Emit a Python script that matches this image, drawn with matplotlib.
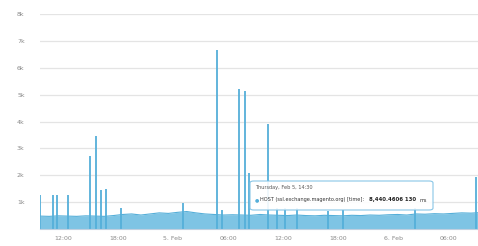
"""
plot.py
-------
Response time of one host over two days (Highcharts-like area chart).
Saves the figure to out.png.
"""

import matplotlib
matplotlib.use("Agg")
import matplotlib.pyplot as plt
import matplotlib.dates as mdates
from matplotlib.patches import FancyBboxPatch
import pandas as pd

# Baseline response time (ms), hourly from Feb 4 09:30
base_start = "2015-02-04 09:30"
base_values = [480, 470, 490, 480, 470, 490, 480, 470, 500, 540, 560, 520,
               560, 600, 580, 620, 650, 600, 560, 540, 520, 530, 520, 510,
               540, 520, 510, 500, 520, 500, 490, 510, 500, 490, 510, 500,
               520, 510, 530, 540, 520, 560, 550, 570, 560, 580, 600, 590, 610]

# Short spikes (time, ms)
spike_times = ["2015-02-04 09:32", "2015-02-04 10:55", "2015-02-04 11:20",
               "2015-02-04 12:35", "2015-02-04 14:57", "2015-02-04 15:36",
               "2015-02-04 16:09", "2015-02-04 16:42", "2015-02-04 18:20",
               "2015-02-05 01:05", "2015-02-05 04:48", "2015-02-05 05:21",
               "2015-02-05 07:12", "2015-02-05 07:51", "2015-02-05 08:18",
               "2015-02-05 10:22", "2015-02-05 11:20", "2015-02-05 12:13",
               "2015-02-05 13:32", "2015-02-05 16:54", "2015-02-05 18:33",
               "2015-02-06 02:24", "2015-02-06 09:03"]
spike_values = [1250, 1250, 1250, 1250, 2700, 3450, 1450, 1500, 780,
                960, 6650, 700, 5200, 5130, 2100, 3900, 800, 800,
                800, 680, 700, 780, 1950]

y_ticks = [1000, 2000, 3000, 4000, 5000, 6000, 7000, 8000]
y_labels = ["1k", "2k", "3k", "4k", "5k", "6k", "7k", "8k"]
x_ticks = ["2015-02-04 12:00", "2015-02-04 18:00", "2015-02-05 00:00",
           "2015-02-05 06:00", "2015-02-05 12:00", "2015-02-05 18:00",
           "2015-02-06 00:00", "2015-02-06 06:00"]
x_labels = ["12:00", "18:00", "5. Feb", "06:00", "12:00", "18:00", "6. Feb", "06:00"]

fill_color = "#7ec4e4"
line_color = "#55afd9"

base_times = pd.date_range(base_start, periods=len(base_values), freq="h")
spikes = pd.to_datetime(spike_times)

fig = plt.figure(figsize=(4.78, 2.46), dpi=100)
ax = fig.add_axes([40 / 478, 1 - 229 / 246, 438 / 478, 215 / 246])

ax.fill_between(base_times, 0, base_values, color=fill_color, lw=0)
ax.plot(base_times, base_values, color=line_color, lw=0.8)
ax.vlines(spikes, 0, spike_values, color=line_color, lw=1.3)

ax.set_xlim(pd.Timestamp("2015-02-04 09:30"), pd.Timestamp("2015-02-06 09:16"))
ax.set_ylim(0, 8000)

ax.set_yticks(y_ticks)
ax.set_yticklabels(y_labels)
ax.set_xticks(mdates.date2num(pd.to_datetime(x_ticks)))
ax.set_xticklabels(x_labels)
ax.tick_params(axis="both", length=0, labelsize=4.5, colors="#8a8a8a")
ax.tick_params(axis="y", pad=11)
ax.tick_params(axis="x", pad=5)

ax.grid(axis="y", color="#e4e4e4", lw=0.9)
ax.set_axisbelow(True)
for side in ["top", "right", "left"]:
    ax.spines[side].set_visible(False)
ax.spines["bottom"].set_color("#c0d0e0")
ax.spines["bottom"].set_linewidth(0.8)

# Tooltip
box = FancyBboxPatch((250 / 478, 1 - 210 / 246), 183 / 478, 29 / 246,
                     boxstyle="round,pad=0,rounding_size=0.008",
                     transform=fig.transFigure, facecolor="white", alpha=0.9,
                     edgecolor="#7cc0e4", lw=0.8, zorder=10)
fig.patches.append(box)
fig.text(255 / 478, 1 - 187 / 246, "Thursday, Feb 5, 14:30", fontsize=3.6,
         color="#555555", va="center", zorder=11)
fig.text(255 / 478, 1 - 200 / 246, "\u25cf", fontsize=3.6, color=line_color,
         va="center", zorder=11)
fig.text(260 / 478, 1 - 200 / 246, "HOST (ssl.exchange.magento.org) [time]:",
         fontsize=3.6, color="#333333", va="center", zorder=11)
fig.text(369 / 478, 1 - 200 / 246, "8,440.4606 130", fontsize=3.9,
         color="#222222", weight="bold", va="center", zorder=11)
fig.text(420 / 478, 1 - 200 / 246, "ms", fontsize=3.6, color="#333333",
         va="center", zorder=11)

fig.savefig("out.png", dpi=100)
